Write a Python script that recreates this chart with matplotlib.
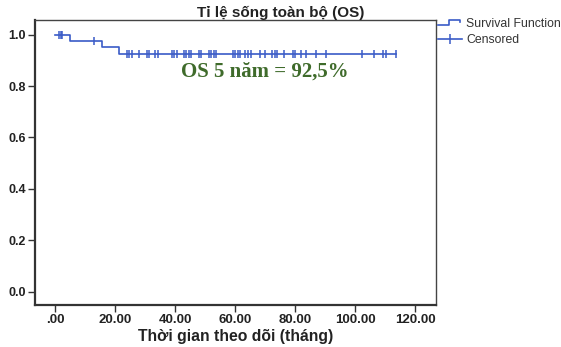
import matplotlib
matplotlib.use("Agg")
import matplotlib.pyplot as plt
from matplotlib.legend_handler import HandlerBase
from matplotlib.lines import Line2D
import numpy as np

# Kaplan-Meier step curve
step_times = [0.0, 5.0, 15.7, 21.2]
step_surv = [1.0, 0.975, 0.95, 0.925]
end_time = 113.7

# censored follow-up times (months)
censor_times = [1.3, 1.9, 2.4, 13.0,
                24.0, 24.8, 25.7, 27.9, 30.7, 31.4, 33.4, 34.2, 39.0, 39.8, 40.7,
                42.9, 43.7, 44.6, 45.3, 47.9, 48.7, 51.2, 52.0, 52.9, 53.7,
                59.3, 60.1, 61.0, 61.8, 63.4, 64.3, 65.2, 68.2, 70.1, 72.3, 73.2,
                74.1, 76.2, 79.3, 80.1, 82.1, 83.8, 87.1, 90.2,
                102.2, 106.3, 109.4, 110.3, 113.7]

x_ticks = [0, 20, 40, 60, 80, 100, 120]
x_labels = [".00", "20.00", "40.00", "60.00", "80.00", "100.00", "120.00"]
y_ticks = [0.0, 0.2, 0.4, 0.6, 0.8, 1.0]

BLUE = "#3a5bc7"
GREEN = "#3f6b2b"
TXT = "#222222"


def surv_at(t):
    idx = np.searchsorted(step_times, t, side="right") - 1
    return step_surv[idx]


class StepHandler(HandlerBase):
    def create_artists(self, legend, orig_handle, xd, yd, w, h, fs, trans):
        lo, hi = -yd + h * 0.2, -yd + h * 0.85
        xs = [-xd, -xd + w * 0.45, -xd + w * 0.45, -xd + w * 0.92, -xd + w * 0.92]
        ys = [lo, lo, hi, hi, hi - h * 0.3]
        ln = Line2D(xs, ys, color=BLUE, lw=1.2, transform=trans)
        return [ln]


fig = plt.figure(figsize=(5.61, 3.47), dpi=100)
ax = fig.add_axes([35 / 561, 1 - 305 / 347, (436 - 35) / 561, (305 - 20) / 347])

xs = step_times + [end_time]
ys = step_surv + [step_surv[-1]]
ax.step(xs, ys, where="post", color=BLUE, lw=1.2)
ax.plot(censor_times, [surv_at(t) for t in censor_times], ls="none", marker="|",
        ms=6, mew=1.1, color=BLUE)

ax.set_xlim(-6.67, 127)
ax.set_ylim(-0.052, 1.057)
ax.set_xticks(x_ticks)
ax.set_xticklabels(x_labels)
ax.set_yticks(y_ticks)
ax.set_yticklabels([f"{v:.1f}" for v in y_ticks])
ax.tick_params(direction="out", length=5, width=1, color="#333333",
               labelcolor=TXT, pad=1.5)
ax.tick_params(axis="x", labelsize=9.5)
ax.tick_params(axis="y", labelsize=9)
for lab in ax.get_xticklabels() + ax.get_yticklabels():
    lab.set_fontweight("bold")
    lab.set_family("Liberation Sans")
for s in ("left", "bottom"):
    ax.spines[s].set_linewidth(1.6)
    ax.spines[s].set_color("#333333")
for s in ("top", "right"):
    ax.spines[s].set_linewidth(1.0)
    ax.spines[s].set_color("#444444")

ax.text(41.9, 0.855, "OS 5 năm = 92,5%", color=GREEN, fontsize=15, fontweight="bold",
        family="Liberation Serif", ha="left", va="center")

fig.text(281 / 561, 1 - 13 / 347, "Tỉ lệ sống toàn bộ (OS)", ha="center", va="center",
         fontsize=11, fontweight="bold", family="Liberation Sans", color=TXT)
ax.set_xlabel("Thời gian theo dõi (tháng)", fontsize=11.3, fontweight="bold",
              family="Liberation Sans", color=TXT, labelpad=2)

h_surv = Line2D([], [], color=BLUE)
h_cens = Line2D([], [], color=BLUE, marker="|", ms=7, mew=1.1, lw=1.2)
fig.legend([h_surv, h_cens], ["Survival Function", "Censored"],
           handler_map={h_surv: StepHandler()},
           loc="upper left", bbox_to_anchor=(438 / 561, 1 - 18 / 347), frameon=False,
           prop={"family": "Liberation Sans", "size": 8.8}, labelcolor="#333333",
           handlelength=2.0, handletextpad=0.3, labelspacing=0.35, borderaxespad=0,
           borderpad=0)

fig.savefig("out.png", dpi=100)
